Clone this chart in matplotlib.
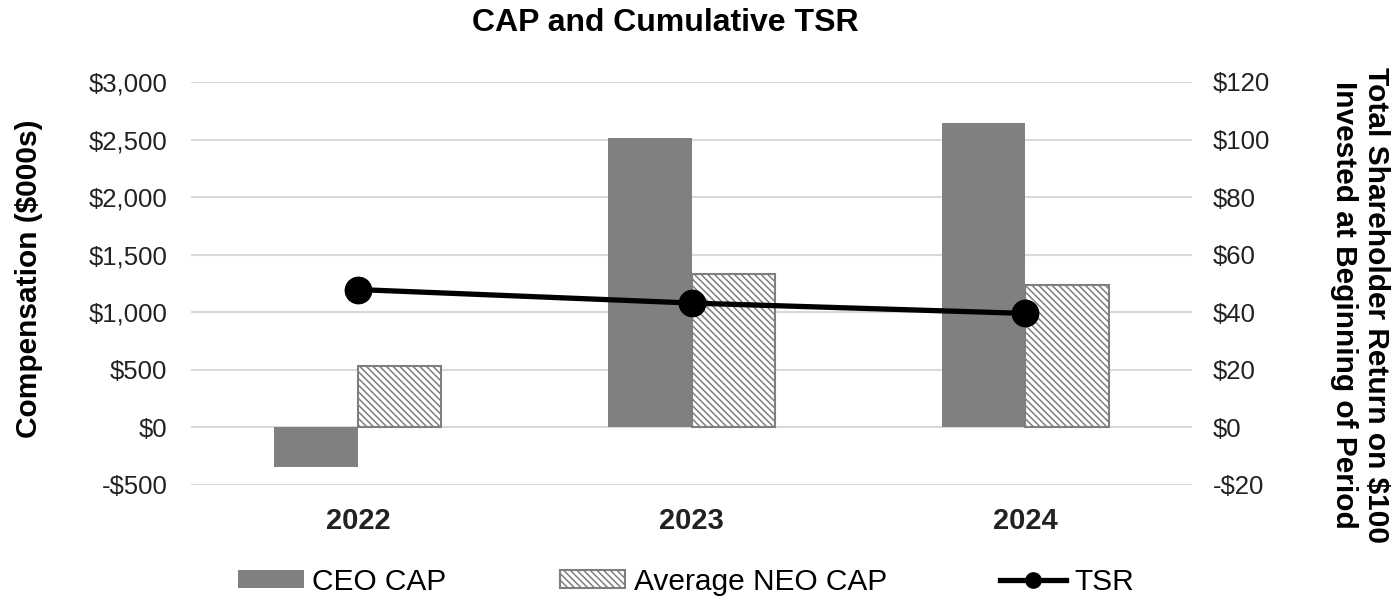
import numpy as np
import matplotlib.pyplot as plt
from matplotlib.lines import Line2D

plt.rcParams['font.family'] = ['Liberation Sans', 'DejaVu Sans']
plt.rcParams['hatch.color'] = '#7f7f7f'
plt.rcParams['hatch.linewidth'] = 1.1

years = ["2022", "2023", "2024"]
ceo_cap = [-340, 2515, 2640]
neo_cap = [530, 1335, 1240]
tsr = [47.9, 43.2, 39.6]

fig = plt.figure(figsize=(13.96, 6.06), dpi=100)
ax = fig.add_axes([0.1368, 0.1997, 0.854 - 0.1368, 0.8647 - 0.1997])
ax2 = ax.twinx()

x = np.arange(len(years))
w = 0.25
ax.bar(x - w / 2, ceo_cap, w, color='#808080', label='CEO CAP', zorder=2)
ax.bar(x + w / 2, neo_cap, w, color='white', edgecolor='#7f7f7f',
       linewidth=1.5, hatch='\\' * 5, label='Average NEO CAP', zorder=2)

ax2.plot(x, tsr, color='black', lw=3.8, marker='o', ms=19, zorder=3)

ax.set_xlim(-0.5, 2.5)
ax.set_ylim(-500, 3000)
yt = list(range(-500, 3001, 500))
ax.set_yticks(yt)
ax.set_yticklabels([f"-${-v:,}" if v < 0 else f"${v:,}" for v in yt])
ax2.set_ylim(-20, 120)
yt2 = list(range(-20, 121, 20))
ax2.set_yticks(yt2)
ax2.set_yticklabels([f"-${-v}" if v < 0 else f"${v}" for v in yt2])

ax.set_xticks(x)
ax.set_xticklabels(years, fontweight='bold', fontsize=21)
ax.grid(axis='y', color='#d9d9d9', lw=1.5, zorder=0)
ax.set_axisbelow(True)
for a in (ax, ax2):
    for s in a.spines.values():
        s.set_visible(False)
    a.tick_params(length=0, colors='#222222')
ax.tick_params(axis='y', labelsize=18.5, pad=17)
ax2.tick_params(axis='y', labelsize=18.5, pad=15)
ax.tick_params(axis='x', pad=16)

fig.text(29 / 1396, 1 - 279 / 606, "Compensation ($000s)", rotation=90,
         ha='center', va='center', fontsize=21.5, fontweight='bold')
fig.text(1360 / 1396, 1 - 305 / 606,
         "Total Shareholder Return on $100\nInvested at Beginning of Period",
         rotation=-90, ha='center', va='center', fontsize=21.5,
         fontweight='bold', linespacing=1.15)
fig.text(665 / 1396, 1 - 23 / 606, "CAP and Cumulative TSR", ha='center',
         va='center', fontsize=23, fontweight='bold')

h1, l1 = ax.get_legend_handles_labels()
tsr_handle = Line2D([], [], color='black', lw=3.8, marker='o', ms=11)
fig.legend(h1 + [tsr_handle], l1 + ['TSR'], loc='center', ncol=3,
           frameon=False, fontsize=21.5,
           bbox_to_anchor=(686 / 1396, 1 - 582 / 606),
           handlelength=2.2, handleheight=0.55, columnspacing=3.8,
           handletextpad=0.27)

fig.savefig("out.png", dpi=100)
